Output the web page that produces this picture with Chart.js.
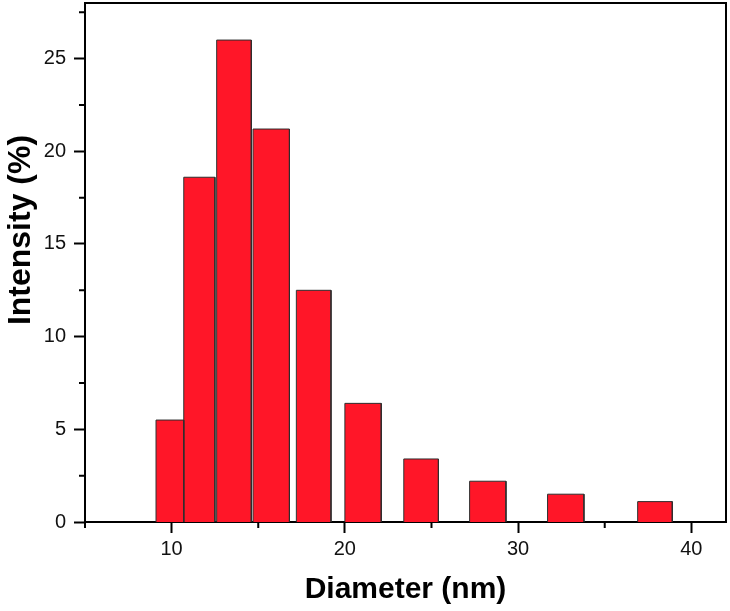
<!DOCTYPE html>
<html>
<head>
<meta charset="utf-8">
<script src="https://cdn.jsdelivr.net/npm/chart.js@4/dist/chart.umd.min.js"></script>
<style>
    html, body { margin: 0; padding: 0; background: #fff; }
    canvas { display: block; }
</style>
</head>
<body>
<canvas id="size-chart" width="730" height="611"></canvas>
<script>
// Гістограма розподілу діаметрів (нм)
const binStart = [9.1, 10.7, 12.6, 14.7, 17.2, 20.0, 23.4, 27.2, 31.7, 36.9];
const binEnd = [10.7, 12.5, 14.6, 16.8, 19.2, 22.1, 25.4, 29.3, 33.8, 38.9];
const intensity = [5.5, 18.6, 26.0, 21.2, 12.5, 6.4, 3.4, 2.2, 1.5, 1.1];

const xTicks = [10, 20, 30, 40];
const xMinorTicks = [5, 15, 25, 35];
const yTicks = [0, 5, 10, 15, 20, 25];
const yMinorTicks = [2.5, 7.5, 12.5, 17.5, 22.5, 27.5];

const xTitle = "Diameter (nm)";
const yTitle = "Intensity (%)";

const fontFamily = "'Liberation Sans', Arial, Helvetica, sans-serif";
const barColor = "rgb(255, 22, 40)";
const edgeColor = "#2e2e2e";

// Кожен стовпчик - окремий замкнений контур
const datasets = intensity.map((h, i) => ({
    data: [
        { x: binStart[i], y: 0 },
        { x: binStart[i], y: h },
        { x: binEnd[i], y: h },
        { x: binEnd[i], y: 0 }
    ],
    fill: "origin",
    backgroundColor: barColor,
    borderColor: edgeColor,
    borderWidth: 1,
    pointRadius: 0,
    tension: 0
}));

// Рамка, дрібні засічки та підпис осі Y
const framePlugin = {
    id: "frame",
    afterDraw(chart) {
        const { ctx, chartArea, scales } = chart;
        ctx.save();
        ctx.strokeStyle = "#000";
        ctx.lineWidth = 2;
        ctx.beginPath();
        ctx.moveTo(chartArea.left, chartArea.top);
        ctx.lineTo(chartArea.right, chartArea.top);
        ctx.lineTo(chartArea.right, chartArea.bottom);
        ctx.stroke();

        ctx.beginPath();
        xMinorTicks.forEach(v => {
            const px = scales.x.getPixelForValue(v);
            ctx.moveTo(px, chartArea.bottom);
            ctx.lineTo(px, chartArea.bottom + 6);
        });
        yMinorTicks.forEach(v => {
            const py = scales.y.getPixelForValue(v);
            ctx.moveTo(chartArea.left, py);
            ctx.lineTo(chartArea.left - 6, py);
        });
        ctx.stroke();

        ctx.translate(21, 230);
        ctx.rotate(-Math.PI / 2);
        ctx.font = `bold 32px ${fontFamily}`;
        ctx.fillStyle = "#000";
        ctx.textAlign = "center";
        ctx.textBaseline = "middle";
        ctx.fillText(yTitle, 0, 0);
        ctx.restore();
    }
};

new Chart(document.getElementById("size-chart"), {
    type: "line",
    data: { datasets },
    plugins: [framePlugin],
    options: {
        responsive: false,
        animation: false,
        layout: { padding: { left: 0, top: 3, right: 4, bottom: 0 } },
        plugins: {
            legend: { display: false },
            tooltip: { enabled: false }
        },
        scales: {
            x: {
                type: "linear",
                min: 5,
                max: 42,
                afterBuildTicks: scale => { scale.ticks = xTicks.map(v => ({ value: v })); },
                afterFit: scale => {
                    scale.height = 89;
                    scale.paddingLeft = 0;
                    scale.paddingRight = 0;
                },
                grid: { drawOnChartArea: false, tickLength: 11, tickWidth: 2, tickColor: "#000" },
                border: { display: true, color: "#000", width: 2 },
                ticks: {
                    color: "#111",
                    padding: 4,
                    maxRotation: 0,
                    font: { family: fontFamily, size: 20 }
                },
                title: {
                    display: true,
                    text: xTitle,
                    color: "#000",
                    padding: { top: 0, bottom: 3 },
                    font: { family: fontFamily, size: 30, weight: "bold" }
                }
            },
            y: {
                type: "linear",
                min: 0,
                max: 28,
                afterBuildTicks: scale => { scale.ticks = yTicks.map(v => ({ value: v })); },
                afterFit: scale => {
                    scale.width = 85;
                    scale.paddingTop = 0;
                    scale.paddingBottom = 0;
                },
                grid: { drawOnChartArea: false, tickLength: 11, tickWidth: 2, tickColor: "#000" },
                border: { display: true, color: "#000", width: 2 },
                ticks: {
                    color: "#111",
                    padding: 8,
                    font: { family: fontFamily, size: 20 }
                }
            }
        }
    }
});
</script>
</body>
</html>
